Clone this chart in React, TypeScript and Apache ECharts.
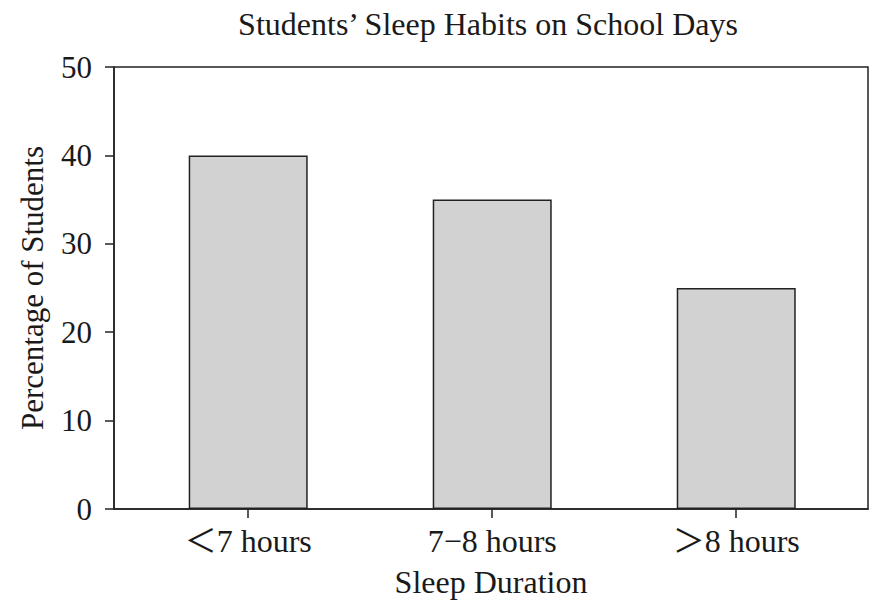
import React, { useEffect, useRef } from "react";
import * as echarts from "echarts";

const categories = ["＜7 hours", "7−8 hours", "＞8 hours"];
const percentages = [40, 35, 25];
const yTicks = [0, 10, 20, 30, 40, 50];

const FONT = "'Liberation Serif', 'Times New Roman', serif, 'Noto Sans CJK SC'";
const INK = "#1a1a1a";

export default function App() {
  const ref = useRef<HTMLDivElement>(null);
  useEffect(() => {
    document.body.style.margin = "0";
    if (!ref.current) return;
    const chart = echarts.init(ref.current, undefined, { renderer: "svg" });
    const idx = categories.map((_, i) => i);
    chart.setOption({
      animation: false,
      backgroundColor: "#ffffff",
      title: {
        text: "Students\u2019 Sleep Habits on School Days",
        left: 483,
        textAlign: "center",
        top: 3,
        textStyle: { fontFamily: FONT, fontSize: 32, fontWeight: "normal", color: INK },
      },
      grid: {
        left: 114,
        right: 20,
        top: 67,
        bottom: 100,
        show: true,
        borderColor: "#222",
        borderWidth: 1.5,
        backgroundColor: "transparent",
      },
      xAxis: {
        type: "value",
        min: -0.55,
        max: 2.54,
        name: "Sleep Duration",
        nameLocation: "middle",
        nameGap: 57,
        nameTextStyle: { fontFamily: FONT, fontSize: 32, color: INK },
        axisLine: { show: true, onZero: false, lineStyle: { color: "#222", width: 1.5 } },
        axisTick: { show: true, length: 9, customValues: idx, lineStyle: { color: "#222", width: 1.5 } },
        axisLabel: {
          customValues: idx,
          margin: 16,
          fontFamily: FONT,
          fontSize: 32,
          color: INK,
          formatter: (v: number) => categories[Math.round(v)] ?? "",
        },
        splitLine: { show: false },
      },
      yAxis: {
        type: "value",
        min: yTicks[0],
        max: yTicks[yTicks.length - 1],
        interval: 10,
        name: "Percentage of Students",
        nameLocation: "middle",
        nameGap: 66,
        nameRotate: 90,
        nameTextStyle: { fontFamily: FONT, fontSize: 31, color: INK },
        axisLine: { show: true, onZero: false, lineStyle: { color: "#222", width: 1.5 } },
        axisTick: { show: true, length: 9, lineStyle: { color: "#222", width: 1.5 } },
        axisLabel: { margin: 22, fontFamily: FONT, fontSize: 31, color: INK },
        splitLine: { show: false },
      },
      series: [
        {
          type: "bar",
          barWidth: 119,
          data: percentages.map((v, i) => [i, v]),
          itemStyle: { color: "#d2d2d2", borderColor: "#222", borderWidth: 1.5 },
        },
      ],
    });
    return () => chart.dispose();
  }, []);
  return <div ref={ref} style={{ width: 888, height: 609 }} />;
}
